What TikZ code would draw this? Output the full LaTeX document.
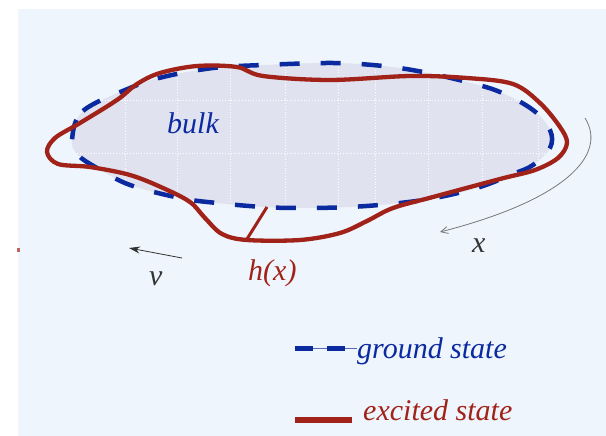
\documentclass[tikz,border=0pt]{standalone}
\usepackage{fontspec}
\setmainfont{Liberation Serif}
\usetikzlibrary{arrows.meta}
\definecolor{bgblue}{RGB}{238,245,252}
\definecolor{gsblue}{RGB}{12,42,160}
\definecolor{exred}{RGB}{160,34,24}
\definecolor{bulkfill}{RGB}{224,226,240}
\definecolor{arrgray}{RGB}{120,120,120}
\tikzset{
  lbl/.style={font=\fontsize{30}{32}\selectfont\itshape, inner sep=0pt, anchor=base west},
  groundline/.style={draw=gsblue, line width=4.5pt, dash pattern=on 20pt off 21pt},
  excitedline/.style={draw=exred, line width=4.3pt, line join=round},
  gridline/.style={draw=white, line width=0.8pt, dotted},
}
\begin{document}
\begin{tikzpicture}[x=1pt,y=-1pt]
\useasboundingbox (0,0) rectangle (606,436);
\fill[bgblue] (18,9) rectangle (606,436);
\fill[exred!70] (17,248) rectangle (19.5,252);
% bulk region (ground state)
\def\groundpath{plot[smooth cycle, tension=0.6] coordinates {(72,140) (83,111) (130,88) (163,77) (213,68) (263,65) (333,63) (383,66) (423,72) (467,82) (500,92) (533,110) (550,130) (550,148) (533,165) (513,174) (480,187) (440,197) (400,203) (350,207) (300,208) (263,207) (217,203) (180,198) (130,185) (97,168) (78,155)}}
\fill[bulkfill] \groundpath;
\begin{scope}
\clip \groundpath;
\foreach \gx in {125,177,230,285,338,375,428,482,538}
  \draw[gridline] (\gx,50) -- (\gx,220);
\foreach \gy in {100,153}
  \draw[gridline] (60,\gy) -- (560,\gy);
\end{scope}
\draw[groundline] \groundpath;
% excited state
\draw[excitedline] plot[smooth cycle, tension=0.55] coordinates {(47,152) (55,138) (80,123) (117,100) (137,84) (160,73) (197,66) (237,67) (263,76) (330,80) (410,76) (467,78) (513,84) (540,103) (560,127) (567,143) (558,158) (535,170) (500,179) (433,197) (393,208) (367,221) (340,233) (300,240) (247,240) (222,234) (205,218) (190,202) (163,188) (130,175) (90,167) (58,164)};
% height h(x)
\coordinate (hA) at (267,207);
\coordinate (hB) at (247,239);
\draw[exred, line width=3pt] (hA) -- (hB);
% labels
\node[lbl, text=gsblue] (bulk) at (167,133) {bulk};
\node[lbl, text=exred] (hx) at (248,280) {h(x)};
\node[lbl, text=black!80] (vlab) at (149,285) {v};
\node[lbl, text=black!80] (xlab) at (472,252) {x};
% arrows
\coordinate (xs) at (585,118);
\coordinate (xe) at (440,232);
\draw[arrgray, line width=0.8pt, -{Straight Barb[length=7pt,width=7pt]}] (xs) .. controls (608,155) and (565,200) .. (xe);
\coordinate (vs) at (182,258);
\coordinate (ve) at (129,248);
\draw[black!80, line width=0.8pt, -{Stealth[length=11pt,width=7pt]}] (vs) -- (ve);
% legend
\coordinate (g1) at (295,348);
\coordinate (g2) at (357,348);
\draw[gsblue!70, line width=1pt] (g1) -- (g2);
\draw[gsblue, line width=5pt] (295,348) -- (313,348);
\draw[gsblue, line width=5pt] (327,348) -- (345,348);
\node[lbl, text=gsblue] (gs) at (357,358) {ground state};
\coordinate (e1) at (295,420);
\coordinate (e2) at (352,420);
\draw[exred, line width=5.5pt] (e1) -- (e2);
\node[lbl, text=exred] (es) at (363,420) {excited state};
\end{tikzpicture}
\end{document}
